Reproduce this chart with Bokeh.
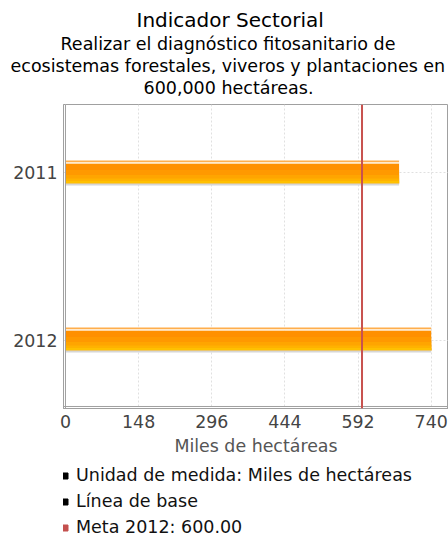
from bokeh.plotting import figure
from bokeh.layouts import column
from bokeh.models import Range1d, FixedTicker, Span, Title, Legend, LegendItem
from bokeh.embed import file_html
from bokeh.resources import INLINE

# ---- data ----
years = ["2011", "2012"]
values = [675, 740]
meta_value = 600
x_ticks = [0, 148, 296, 444, 592, 740]
main_title = "Indicador Sectorial"
subtitle_lines = [
    "Realizar el diagnóstico fitosanitario de",
    "ecosistemas forestales, viveros y plantaciones en",
    "600,000 hectáreas.",
]
x_label = "Miles de hectáreas"
legend_labels = [
    "Unidad de medida: Miles de hectáreas",
    "Línea de base",
    "Meta 2012: 600.00",
]
legend_colors = ["#000000", "#000000", "#C4504E"]

FONT = "DejaVu Sans"
PX = 1.0 / 167.0  # y units per pixel

p = figure(width=448, height=462, output_backend="svg", toolbar_location=None,
           x_range=Range1d(-4.0, 775), y_range=Range1d(1.41, -0.41),
           min_border_left=63, min_border_right=0, min_border_top=104,
           min_border_bottom=54, title=None)

# small spacer between plot frame and the title block
p.add_layout(Title(text=" ", text_font_size="1px", standoff=4), "above")
# title lines, nearest to the plot first: (text, size, left offset, standoff)
title_specs = [
    (subtitle_lines[2], "17.5px", 80, 0),
    (subtitle_lines[1], "17.5px", -53, 0),
    (subtitle_lines[0], "17.5px", -3, 0),
    (main_title, "20px", 73, 0),
]
for txt, size, off, so in title_specs:
    p.add_layout(Title(text=txt, align="left", offset=off, text_font=FONT,
                       text_font_size=size, text_font_style="normal",
                       text_line_height=1.0, text_color="#000000",
                       standoff=so), "above")

idx = list(range(len(years)))

# bar body: nested layers sharing the bottom edge (top offset px, colour)
body_bottom = 10.5
layers = [
    (-9.5, "#FF9000"),
    (-3.0, "#FF9900"),
    (2.0, "#FFA500"),
    (5.5, "#FFB200"),
    (8.0, "#FFC000"),
]
for top, c in layers:
    h = body_bottom - top
    p.hbar(y=[i + (top + h / 2) * PX for i in idx], left=0, right=values,
           height=h * PX, fill_color=c, line_color=None)
# top highlight stripes and bottom shadow: (top px, bottom px, colour)
stripes = [
    (-12.5, -11.0, "#FFAE4C"),
    (-11.0, -9.5, "#FFE9CC"),
    (10.5, 12.5, "#D6D6D6"),
]
for t, b, c in stripes:
    p.hbar(y=[i + (t + b) / 2 * PX for i in idx], left=0, right=values,
           height=(b - t) * PX, fill_color=c, line_color=None)

p.yaxis.ticker = FixedTicker(ticks=idx)
p.yaxis.major_label_overrides = {i: y for i, y in zip(idx, years)}
p.xaxis.ticker = FixedTicker(ticks=x_ticks)
for ax in (p.xaxis, p.yaxis):
    ax.major_tick_line_color = None
    ax.minor_tick_line_color = None
    ax.major_tick_out = 0
    ax.major_tick_in = 0
    ax.axis_line_color = "#A0A0A0"
    ax.major_label_text_font = FONT
    ax.major_label_text_font_size = "17.4px"
    ax.major_label_text_color = "#444444"
p.yaxis.major_label_standoff = 6
p.xaxis.major_label_standoff = 6
p.xaxis.axis_label = x_label
p.xaxis.axis_label_text_font = FONT
p.xaxis.axis_label_text_font_size = "17.4px"
p.xaxis.axis_label_text_font_style = "normal"
p.xaxis.axis_label_text_color = "#555555"
p.xaxis.axis_label_standoff = 5

p.xgrid.ticker = FixedTicker(ticks=x_ticks)
p.ygrid.ticker = FixedTicker(ticks=idx)
for g in (p.xgrid, p.ygrid):
    g.grid_line_color = "#E0E0E0"
    g.grid_line_dash = "2 2"

p.outline_line_color = "#A0A0A0"
p.add_layout(Span(location=0, dimension="height", line_color="#A0A0A0", line_width=1))
p.add_layout(Span(location=1.41 - 2 * PX, dimension="width", line_color="#A0A0A0", line_width=1))
p.add_layout(Span(location=meta_value, dimension="height", line_color="#C8524F", line_width=2))

# ---- legend ----
leg = figure(width=448, height=76, output_backend="svg", toolbar_location=None,
             x_range=Range1d(0, 1), y_range=Range1d(0, 1),
             x_axis_location=None, y_axis_location=None,
             min_border_left=63, min_border_right=0, min_border_top=3,
             min_border_bottom=0, title=None)
leg.xgrid.visible = False
leg.ygrid.visible = False
leg.outline_line_color = None
items = []
for lab, col in zip(legend_labels, legend_colors):
    r = leg.scatter(x=[-10], y=[-10], marker="square", size=6,
                    fill_color=col, line_color=col)
    items.append(LegendItem(label=lab, renderers=[r]))
legend = Legend(items=items, location=(-6, 1), orientation="vertical",
                border_line_color=None, background_fill_alpha=0,
                label_text_font=FONT, label_text_font_size="17.5px",
                label_text_color="#111111",
                glyph_width=15, glyph_height=15, label_standoff=4,
                label_height=20, spacing=6, padding=0, margin=0)
leg.add_layout(legend, "center")

layout = column(p, leg, spacing=0)
open("out.html", "w").write(file_html(layout, INLINE))
